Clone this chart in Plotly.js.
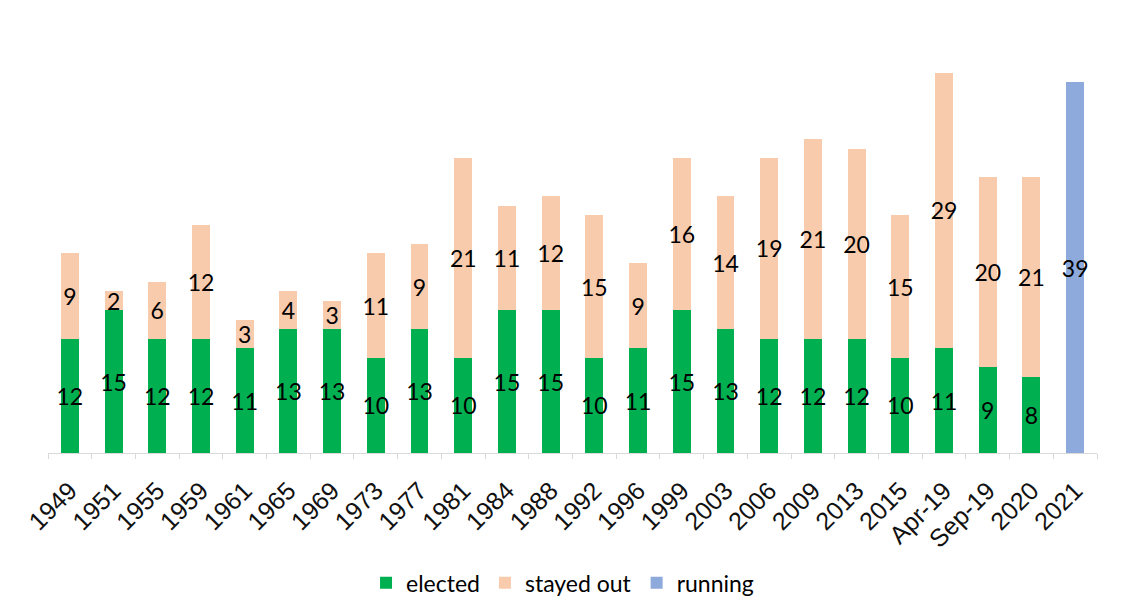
<!DOCTYPE html>
<html>
<head>
<meta charset="utf-8">
<script src="https://cdn.plot.ly/plotly-3.0.1.min.js"></script>
<style>html,body{margin:0;padding:0;background:#fff;}#chart{width:1139px;height:605px;}</style>
</head>
<body>
<div id="chart"></div>
<script>
const categories = ["1949","1951","1955","1959","1961","1965","1969","1973","1977","1981","1984","1988","1992","1996","1999","2003","2006","2009","2013","2015","Apr-19","Sep-19","2020","2021"];
const elected   = [12,15,12,12,11,13,13,10,13,10,15,15,10,11,15,13,12,12,12,10,11,9,8,null];
const stayedOut = [9,2,6,12,3,4,3,11,9,21,11,12,15,9,16,14,19,21,20,15,29,20,21,null];
const running   = [null,null,null,null,null,null,null,null,null,null,null,null,null,null,null,null,null,null,null,null,null,null,null,39];

const labelFont = {family: "Lato, 'Open Sans', sans-serif", size: 23, color: "#000"};
function lbl(arr){ return arr.map(v => v == null ? "" : String(v)); }
const common = {type: "bar", x: categories, textposition: "inside", insidetextanchor: "middle",
  textangle: 0, constraintext: "none", insidetextfont: labelFont, hoverinfo: "none", cliponaxis: false};

const data = [
  Object.assign({}, common, {name: "elected", y: elected, text: lbl(elected), marker: {color: "#00B050"}}),
  Object.assign({}, common, {name: "stayed out", y: stayedOut, text: lbl(stayedOut), marker: {color: "#F8CBAD"}}),
  Object.assign({}, common, {name: "running", y: running, text: lbl(running), marker: {color: "#8EA9DB"}})
];

const layout = {
  width: 1139, height: 605,
  margin: {l: 48, r: 42, t: 63, b: 152, autoexpand: false},
  barmode: "stack", bargap: 0.59,
  paper_bgcolor: "#fff", plot_bgcolor: "#fff",
  showlegend: true,
  legend: {orientation: "h", x: 0.4905, xanchor: "center", y: -0.333, yanchor: "middle",
    font: {family: "Lato, 'Open Sans', sans-serif", size: 23, color: "#000"}, traceorder: "normal"},
  xaxis: {type: "category", tickangle: -45, automargin: false,
    tickfont: {family: "'Liberation Sans', Arial, sans-serif", size: 25, color: "#111"},
    ticklabelstandoff: 12,
    showline: true, linecolor: "#d9d9d9", linewidth: 1, ticks: "outside", tickson: "boundaries",
    ticklen: 5, tickcolor: "#d9d9d9", showgrid: false, zeroline: false, fixedrange: true},
  yaxis: {range: [0, 41], visible: false, automargin: false, showgrid: false, zeroline: false, fixedrange: true}
};

Plotly.newPlot("chart", data, layout, {displayModeBar: false, staticPlot: true});
</script>
</body>
</html>
